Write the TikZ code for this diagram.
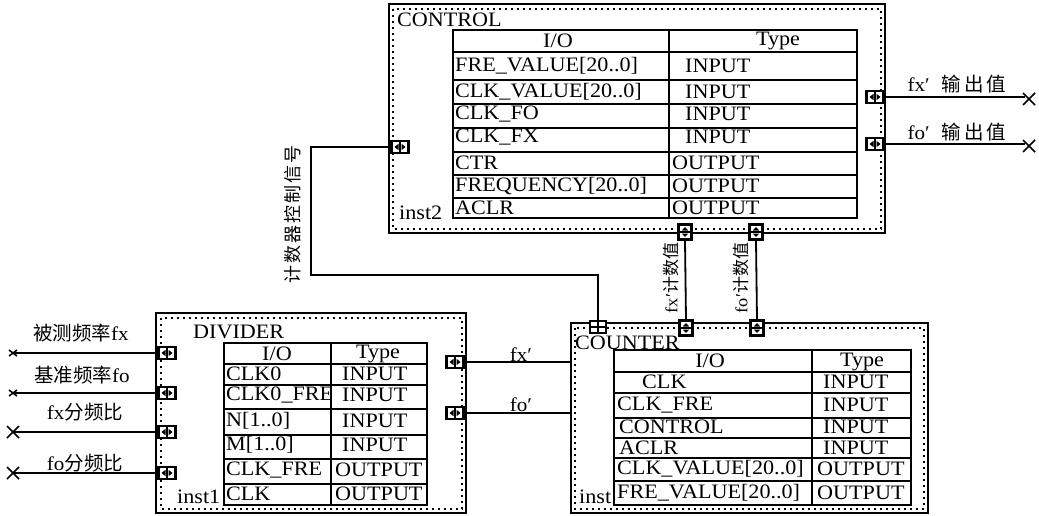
\documentclass[tikz,border=0pt]{standalone}
\usepackage{fontspec}
\setmainfont[FakeStretch=1.08]{Liberation Serif}
\newfontfamily\cjk{Noto Sans CJK SC}
\usetikzlibrary{calc}
\begin{document}
\begin{tikzpicture}[x=1pt,y=-1pt,
  outerbox/.style={draw, line width=2pt},
  dotbox/.style={draw, line width=2pt, dash pattern=on 2pt off 4pt},
  tabline/.style={draw, line width=1.8pt},
  txt/.style={font=\fontsize{20.5}{21}\selectfont, inner sep=0pt},
  lbl/.style={font=\fontsize{19.5}{20}\selectfont, inner sep=0pt},
  vlbl/.style={font=\fontsize{16}{17}\selectfont, inner sep=0pt, rotate=90},
  wire/.style={line width=1.8pt},
  xmark/.style={line width=1.6pt},
  hport/.style={draw=black, fill=white, line width=2.2pt, minimum width=17pt, minimum height=12pt, inner sep=0pt,
    path picture={
      \fill[black] ($(path picture bounding box.center)+(-0.8,-5)$) rectangle ($(path picture bounding box.center)+(0.8,5)$);
      \fill[black] ($(path picture bounding box.center)+(-1.5,-3.2)$) -- ($(path picture bounding box.center)+(-5.5,0)$) -- ($(path picture bounding box.center)+(-1.5,3.2)$) -- cycle;
      \fill[black] ($(path picture bounding box.center)+(1.5,-3.2)$) -- ($(path picture bounding box.center)+(5.5,0)$) -- ($(path picture bounding box.center)+(1.5,3.2)$) -- cycle;
    }},
  vport/.style={draw=black, fill=white, line width=2.2pt, minimum width=13pt, minimum height=15pt, inner sep=0pt,
    path picture={
      \draw[line width=1.4pt] (path picture bounding box.west) -- (path picture bounding box.east);
      \fill[black] ($(path picture bounding box.center)+(-3.2,-1.5)$) -- ($(path picture bounding box.center)+(0,-5)$) -- ($(path picture bounding box.center)+(3.2,-1.5)$) -- cycle;
      \fill[black] ($(path picture bounding box.center)+(-3.2,1.5)$) -- ($(path picture bounding box.center)+(0,5)$) -- ($(path picture bounding box.center)+(3.2,1.5)$) -- cycle;
    }},
  gport/.style={draw=black, fill=white, line width=1.8pt, minimum width=16pt, minimum height=12pt, inner sep=0pt,
    path picture={
      \draw[line width=1.4pt] (path picture bounding box.west) -- (path picture bounding box.east);
      \draw[line width=1.4pt] (path picture bounding box.north) -- (path picture bounding box.south);
    }},
]
\useasboundingbox (0,0) rectangle (1039,516);

% ================= CONTROL =================
\draw[outerbox] (389,4) rectangle (885,233);
\draw[dotbox] (393,9) rectangle (881,229);
\node[txt, anchor=west] (ctlname) at (397,20) {CONTROL};
\node[txt, anchor=west] (ctlinst) at (399,213) {inst2};
\draw[tabline] (453,30) rectangle (857,218);
\draw[tabline] (669,30) -- (669,218);
\foreach \yy in {52,80,104,128,152,175,198} \draw[tabline] (453,\yy) -- (857,\yy);
\node[txt] (ch1) at (558,41) {I/O};
\node[txt] (ch2) at (778,41) {Type};
\foreach \yc/\nm/\tx/\ty [count=\i] in {
  66/{FRE\_VALUE[20..0]}/685/INPUT,
  92/{CLK\_VALUE[20..0]}/685/INPUT,
  114/{CLK\_FO}/685/INPUT,
  137/{CLK\_FX}/685/INPUT,
  163/{CTR}/672/OUTPUT,
  186/{FREQUENCY[20..0]}/672/OUTPUT,
  208/{ACLR}/672/OUTPUT}{
  \node[txt, anchor=west] (cn\i) at (455,\yc) {\nm};
  \node[txt, anchor=west] (ct\i) at (\tx,\yc) {\ty};
}
\node[hport] (cpl) at (400,147) {};
\node[hport] (cpr1) at (875,97) {};
\node[hport] (cpr2) at (875,144) {};
\node[vport] (cpb1) at (685,232) {};
\node[vport] (cpb2) at (756,232) {};

% ================= DIVIDER =================
\draw[outerbox] (156,313) rectangle (466,513);
\draw[dotbox] (161,318) rectangle (462,509);
\node[txt, anchor=west] (divname) at (193,332) {DIVIDER};
\node[txt, anchor=west] (divinst) at (177,497) {inst1};
\draw[tabline] (224,343) rectangle (427,505);
\draw[tabline] (331,343) -- (331,505);
\foreach \yy in {364,385,409,435,459,484} \draw[tabline] (224,\yy) -- (427,\yy);
\node[txt] (dh1) at (277,354) {I/O};
\node[txt] (dh2) at (378,354) {Type};
\foreach \yc/\nm/\tx/\ty [count=\i] in {
  374/{CLK0}/342/INPUT,
  395/{CLK0\_FRE}/342/INPUT,
  421/{N[1..0]}/342/INPUT,
  445/{M[1..0]}/342/INPUT,
  470/{CLK\_FRE}/335/OUTPUT,
  494/{CLK}/335/OUTPUT}{
  \node[txt, anchor=west] (dn\i) at (226,\yc) {\nm};
  \node[txt, anchor=west] (dt\i) at (\tx,\yc) {\ty};
}
\node[hport] (dpl1) at (167,353) {};
\node[hport] (dpl2) at (167,393) {};
\node[hport] (dpl3) at (167,432) {};
\node[hport] (dpl4) at (167,473) {};
\node[hport] (dpr1) at (455,362) {};
\node[hport] (dpr2) at (455,413) {};

% ================= COUNTER =================
\draw[outerbox] (571,323) rectangle (928,513);
\draw[dotbox] (575,328) rectangle (924,509);
\node[txt, anchor=west] (cntname) at (575,343) {COUNTER};
\node[txt, anchor=west] (cntinst) at (579,497) {inst};
\draw[tabline] (614,350) rectangle (911,505);
\draw[tabline] (812,350) -- (812,505);
\foreach \yy in {372,393,418,438,458,481} \draw[tabline] (614,\yy) -- (911,\yy);
\node[txt] (kh1) at (710,361) {I/O};
\node[txt] (kh2) at (862,362) {Type};
\foreach \yc/\nx/\nm/\tx/\ty [count=\i] in {
  382/642/{CLK}/823/INPUT,
  405/617/{CLK\_FRE}/823/INPUT,
  427/619/{CONTROL}/823/INPUT,
  448/619/{ACLR}/823/INPUT,
  469/617/{CLK\_VALUE[20..0]}/817/OUTPUT,
  493/617/{FRE\_VALUE[20..0]}/817/OUTPUT}{
  \node[txt, anchor=west] (kn\i) at (\nx,\yc) {\nm};
  \node[txt, anchor=west] (kt\i) at (\tx,\yc) {\ty};
}
\node[gport] (kpt0) at (598,327) {};
\node[vport] (kpt1) at (686,328) {};
\node[vport] (kpt2) at (757,328) {};
\coordinate (kin1) at (571,362);
\coordinate (kin2) at (571,413);

% ================= external endpoints =================
\coordinate (xl1) at (13,353);
\coordinate (xl2) at (13,393);
\coordinate (xl3) at (13,432);
\coordinate (xl4) at (13,473);
\coordinate (xr1) at (1029,99);
\coordinate (xr2) at (1029,146);
\coordinate (bend1) at (311,147);
\coordinate (bend2) at (311,275);
\coordinate (bend3) at (598,275);

% ================= wires =================
\draw[wire] (dpl1.west) -- (xl1);
\draw[wire] (dpl2.west) -- (xl2);
\draw[wire] (dpl3.west) -- (xl3);
\draw[wire] (dpl4.west) -- (xl4);
\draw[wire] (dpr1.east) -- (kin1);
\draw[wire] (dpr2.east) -- (kin2);
\draw[wire] (cpr1.east) -- ($(xr1)+(-4,-2)$);
\draw[wire] (cpr2.east) -- ($(xr2)+(-4,-2)$);
\draw[wire] (cpl.west) -- (bend1) -- (bend2) -- (bend3) -- (kpt0.north);
\draw[wire] (cpb1.south) -- (kpt1.north);
\draw[wire] (cpb2.south) -- (kpt2.north);

% X marks
\draw[xmark] ($(xl1)+(-4,-3)$) -- ($(xl1)+(4,3)$) ($(xl1)+(-4,3)$) -- ($(xl1)+(4,-3)$);
\draw[xmark] ($(xl2)+(-4,-3)$) -- ($(xl2)+(4,3)$) ($(xl2)+(-4,3)$) -- ($(xl2)+(4,-3)$);
\draw[xmark] ($(xl3)+(-6,-6)$) -- ($(xl3)+(6,6)$) ($(xl3)+(-6,6)$) -- ($(xl3)+(6,-6)$);
\draw[xmark] ($(xl4)+(-6,-6)$) -- ($(xl4)+(6,6)$) ($(xl4)+(-6,6)$) -- ($(xl4)+(6,-6)$);
\draw[xmark] ($(xr1)+(-6,-6)$) -- ($(xr1)+(6,6)$) ($(xr1)+(-6,6)$) -- ($(xr1)+(6,-6)$);
\draw[xmark] ($(xr2)+(-6,-6)$) -- ($(xr2)+(6,6)$) ($(xr2)+(-6,6)$) -- ($(xr2)+(6,-6)$);

% ================= labels =================
\node[lbl] (l1) at (81,333) {{\cjk 被测频率}fx};
\node[lbl] (l2) at (82,375) {{\cjk 基准频率}fo};
\node[lbl] (l3) at (85,412) {fx{\cjk 分频比}};
\node[lbl] (l4) at (85,463) {fo{\cjk 分频比}};
\node[lbl] (r1) at (957,84) {fx′\hspace{12pt}{\cjk 输\hspace{3pt}出\hspace{3pt}值}};
\node[lbl] (r2) at (957,132) {fo′\hspace{12pt}{\cjk 输\hspace{3pt}出\hspace{3pt}值}};
\node[lbl] (m1) at (521,355) {fx′};
\node[lbl] (m2) at (521,405) {fo′};
\node[vlbl, font=\fontsize{18}{19}\selectfont] (v0) at (293,214) {\cjk 计\hspace{2pt}数\hspace{2pt}器\hspace{2pt}控\hspace{2pt}制\hspace{2pt}信\hspace{2pt}号};
\node[vlbl, font=\fontsize{17}{18}\selectfont] (v1) at (671,278) {fx′{\cjk 计数值}};
\node[vlbl, font=\fontsize{17}{18}\selectfont] (v2) at (741,278) {fo′{\cjk 计数值}};
\end{tikzpicture}
\end{document}
